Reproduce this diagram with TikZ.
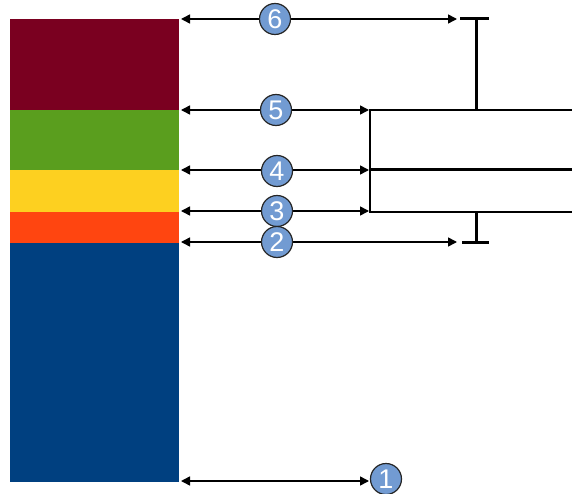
\documentclass[tikz,border=0pt]{standalone}
\usepackage{fontspec}
\setmainfont{Liberation Sans}
\usetikzlibrary{arrows.meta}
\definecolor{cmaroon}{HTML}{7A0020}
\definecolor{cgreen}{HTML}{5A9E1E}
\definecolor{cyellow}{HTML}{FDD020}
\definecolor{corange}{HTML}{FF4510}
\definecolor{cblue}{HTML}{004080}
\definecolor{cball}{HTML}{729BD2}
\tikzset{
  dimarrow/.style={line width=1.5pt,{Triangle[length=9pt,width=9pt]}-{Triangle[length=9pt,width=9pt]}},
  ball/.style={circle,draw=black!85,line width=1.2pt,fill=cball,text=white,minimum size=31pt,inner sep=0pt,font=\fontsize{27}{27}\selectfont},
  thinln/.style={line width=1.6pt},
  thickln/.style={line width=3pt},
}
\begin{document}
\begin{tikzpicture}[x=1pt,y=-1pt]
\useasboundingbox (0,0) rectangle (572,494);
% bands
\fill[cmaroon] (10,19) rectangle (179,110);
\fill[cgreen] (10,110) rectangle (179,170);
\fill[cyellow] (10,170) rectangle (179,212);
\fill[corange] (10,212) rectangle (179,243);
\fill[cblue] (10,243) rectangle (179,482);
% end coordinates
\coordinate (l6) at (181,19);  \coordinate (r6) at (457,19);
\coordinate (l5) at (181,110); \coordinate (r5) at (369,110);
\coordinate (l4) at (181,170); \coordinate (r4) at (369,170);
\coordinate (l3) at (181,211); \coordinate (r3) at (369,211);
\coordinate (l2) at (181,242); \coordinate (r2) at (457,242);
\coordinate (l1) at (181,481); \coordinate (r1) at (369,481);
% bracket structure
\coordinate (bt) at (370,110); \coordinate (bb) at (370,212);
\coordinate (bm) at (370,170);
\coordinate (et) at (572,110); \coordinate (em) at (572,170); \coordinate (eb) at (572,212);
\coordinate (tt) at (476,19); \coordinate (tb) at (476,110);
\coordinate (ut) at (476,212); \coordinate (ub) at (476,242);
\coordinate (c1a) at (460,19); \coordinate (c1b) at (489,19);
\coordinate (c2a) at (462,242); \coordinate (c2b) at (489,242);
\draw[thinln] (et) -- (bt) -- (bb) -- (eb);
\draw[thickln] (bm) -- (em);
\draw[thickln] (tt) -- (tb);
\draw[thickln] (c1a) -- (c1b);
\draw[thickln] (ut) -- (ub);
\draw[thickln] (c2a) -- (c2b);
% arrows
\draw[dimarrow] (l6) -- (r6);
\draw[dimarrow] (l5) -- (r5);
\draw[dimarrow] (l4) -- (r4);
\draw[dimarrow] (l3) -- (r3);
\draw[dimarrow] (l2) -- (r2);
\draw[dimarrow] (l1) -- (r1);
% balls
\node[ball] (n6) at (275,19) {6};
\node[ball] (n5) at (276,110) {5};
\node[ball] (n4) at (277,171) {4};
\node[ball] (n3) at (277,211) {3};
\node[ball] (n2) at (277,242) {2};
\node[ball] (n1) at (386,479) {1};
\end{tikzpicture}
\end{document}
